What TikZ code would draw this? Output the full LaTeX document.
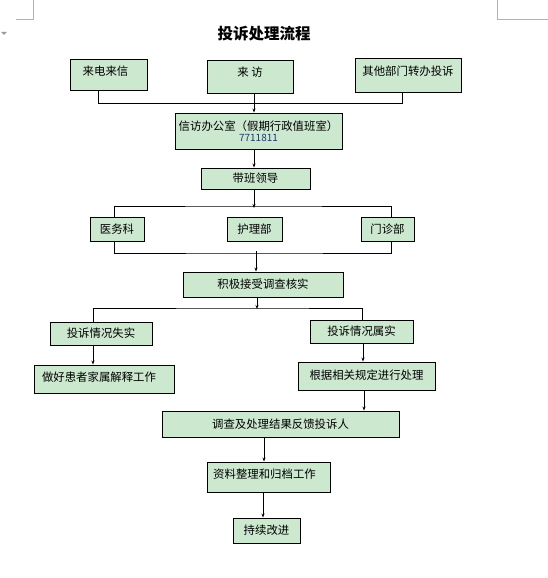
\documentclass[tikz,border=0pt]{standalone}
\usepackage{fontspec}
\setmainfont{Noto Sans CJK SC}
\usetikzlibrary{arrows.meta}
\definecolor{boxgreen}{RGB}{204,232,207}
\definecolor{telblue}{RGB}{31,56,110}
\newcommand{\upby}[2]{\raisebox{#1}[\height][\depth]{#2}}

\begin{document}
\begin{tikzpicture}[x=1pt, y=-1pt, font=\fontsize{11.4}{13}\selectfont,
	box/.style={draw=black, line width=.9pt, fill=boxgreen, inner sep=0pt, align=center},
	link/.style={line width=.8pt},
	flow/.style={line width=.8pt, -{Stealth[length=4pt, width=3pt]}},
	cornermark/.style={draw=black!30, line width=.8pt}]
			\useasboundingbox (0,0) rectangle (548,578);
			% page corner marks
			\draw[cornermark] (16,19) -- (33,19) -- (33,0);
			\draw[cornermark] (548,19) -- (497,19) -- (497,0);
			\fill[black!40] (1,32) -- (7,32) -- (4,35) -- cycle;
			\node (title) at (264,34) {\fontsize{15.5}{17}\selectfont\bfseries 投诉处理流程};
			% sources
			\node[box, minimum width=77, minimum height=31] (laidian) at (108.5,74.5) {\upby{3pt}{来电来信\hspace{6pt}}};
			\node[box, minimum width=86, minimum height=33] (laifang) at (250,76.5) {\upby{4pt}{来\ 访}};
			\node[box, minimum width=106, minimum height=34] (qita) at (408,75) {\upby{4pt}{其他部门转办投诉}};
			\node[box, minimum width=167, minimum height=36] (xinfang) at (258.5,131) {信访办公室（假期行政值班室）\\[-2pt]{\color{telblue}\fontsize{10}{12}\selectfont 7711811}};
			\node[box, minimum width=109, minimum height=21] (daiban) at (255.5,178.5) {带班领导};
			% departments
			\node[box, minimum width=54, minimum height=24] (yiwu) at (117,229) {医务科};
			\node[box, minimum width=55, minimum height=24] (huli) at (254.5,229) {护理部};
			\node[box, minimum width=53, minimum height=24] (menzhen) at (387.5,229) {门诊部};
			\node[box, minimum width=160, minimum height=25] (diaocha) at (263,284.5) {积极接受调查核实};
			% outcome
			\node[box, minimum width=102, minimum height=23] (shishi) at (101,333.5) {投诉情况失实};
			\node[box, minimum width=103, minimum height=23] (shushi) at (361.5,331.5) {投诉情况属实};
			\node[box, minimum width=140, minimum height=28] (jieshi) at (104,379) {\upby{2pt}{做好患者家属解释工作\hspace{10pt}}};
			\node[box, minimum width=137, minimum height=28] (chuli) at (366.5,376) {\upby{1pt}{根据相关规定进行处理}};
			\node[box, minimum width=237, minimum height=26] (fankui) at (280.5,424) {调查及处理结果反馈投诉人};
			\node[box, minimum width=123, minimum height=30] (ziliao) at (268.5,477) {\upby{3pt}{资料整理和归档工作\hspace{8pt}}};
			\node[box, minimum width=67, minimum height=25] (chixu) at (266.5,530.5) {持续改进};
			% brackets
			\coordinate (top) at (254,206);
			\coordinate (bottom) at (256,253);
			\coordinate (split) at (257,308);
			\draw[link] ([xshift=-10.5]laidian.south) -- ++(0,13) -| ([xshift=-6]qita.south);
			\draw[link] ([xshift=-3]yiwu.north) |- (top) -| ([xshift=3.5]menzhen.north);
			\draw[link] ([xshift=-3]yiwu.south) |- (bottom) -| ([xshift=3.5]menzhen.south);
			\draw[link] ([xshift=-8]shishi.north) |- (split) -| ([xshift=0.5]shushi.north);
			% arrows
			\draw[flow] ([xshift=4]laifang.south) -- ([xshift=4]laifang.south |- xinfang.north);
			\draw[flow] ([xshift=-4.5]xinfang.south) -- ([xshift=-4.5]xinfang.south |- daiban.north);
			\draw[flow] ([xshift=-1.5]daiban.south) -- ([xshift=-1.5,yshift=-2]daiban.south |- top);
			\draw[flow] ([yshift=2]bottom) -- (bottom |- diaocha.north);
			\draw[flow] ([xshift=-6]diaocha.south) -- ([xshift=-6,yshift=-1]diaocha.south |- split);
			\draw[flow] ([xshift=-8]shishi.south) -- ([xshift=-8]shishi.south |- jieshi.north);
			\draw[flow] ([xshift=1.5]shushi.south) -- ([xshift=1.5]shushi.south |- chuli.north);
			\draw[flow] ([xshift=-2.5]chuli.south) -- ([xshift=-2.5]chuli.south |- fankui.north);
			\draw[flow] ([xshift=-16.5]fankui.south) -- ([xshift=-16.5]fankui.south |- ziliao.north);
			\draw[flow] ([xshift=-5.5]ziliao.south) -- ([xshift=-5.5]ziliao.south |- chixu.north);
\end{tikzpicture}
\end{document}
